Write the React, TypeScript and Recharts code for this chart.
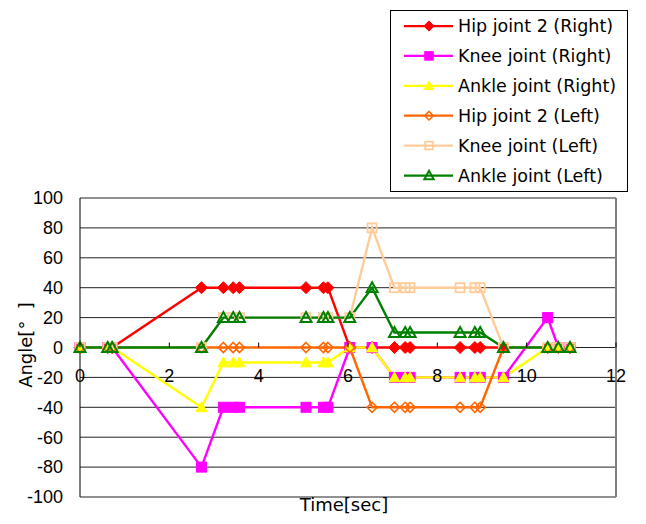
import React from 'react';
import { LineChart, Line, XAxis, YAxis, CartesianGrid, ReferenceLine, Legend } from 'recharts';

// Time [sec]
const times = [0, 0.62, 0.72, 2.72, 3.21, 3.43, 3.57, 5.06, 5.45, 5.55, 6.04, 6.54, 7.04, 7.28, 7.39, 8.51, 8.84, 8.96, 9.48, 10.47, 10.71, 10.97];
// Angles [deg]
const hipRight = [0, 0, 0, 40, 40, 40, 40, 40, 40, 40, 0, 0, 0, 0, 0, 0, 0, 0, 0, 0, 0, 0];
const kneeRight = [0, 0, 0, -80, -40, -40, -40, -40, -40, -40, 0, 0, -20, -20, -20, -20, -20, -20, -20, 20, 0, 0];
const ankleRight = [0, 0, 0, -40, -10, -10, -10, -10, -10, -10, 0, 0, -20, -20, -20, -20, -20, -20, -20, 0, 0, 0];
const hipLeft = [0, 0, 0, 0, 0, 0, 0, 0, 0, 0, 0, -40, -40, -40, -40, -40, -40, -40, 0, 0, 0, 0];
const kneeLeft = [0, 0, 0, 0, 20, 20, 20, 20, 20, 20, 20, 80, 40, 40, 40, 40, 40, 40, 0, 0, 0, 0];
const ankleLeft = [0, 0, 0, 0, 20, 20, 20, 20, 20, 20, 20, 40, 10, 10, 10, 10, 10, 10, 0, 0, 0, 0];

const xTicks = [0, 2, 4, 6, 8, 10, 12];
const yTicks = [-100, -80, -60, -40, -20, 0, 20, 40, 60, 80, 100];

const seriesNames = [
  'Hip joint 2 (Right)',
  'Knee joint (Right)',
  'Ankle joint (Right)',
  'Hip joint 2 (Left)',
  'Knee joint (Left)',
  'Ankle joint (Left)',
];
const seriesValues = [hipRight, kneeRight, ankleRight, hipLeft, kneeLeft, ankleLeft];

type Shape = 'diamond' | 'square' | 'triangle';
const styles: { color: string; shape: Shape; filled: boolean; size: number; sw: number }[] = [
  { color: '#FF0000', shape: 'diamond', filled: true, size: 6, sw: 1 },
  { color: '#FF00FF', shape: 'square', filled: true, size: 5, sw: 1 },
  { color: '#FFFF00', shape: 'triangle', filled: true, size: 5.5, sw: 1 },
  { color: '#FF6600', shape: 'diamond', filled: false, size: 5, sw: 1.6 },
  { color: '#FFCC99', shape: 'square', filled: false, size: 4.5, sw: 1.8 },
  { color: '#008000', shape: 'triangle', filled: false, size: 5.5, sw: 2 },
];

const data = times.map((t, i) => {
  const row: Record<string, number> = { t };
  seriesValues.forEach((arr, k) => {
    row['s' + k] = arr[i];
  });
  return row;
});

const FONT = '"Liberation Sans", Arial, sans-serif';
const TEXT_FONT = '"DejaVu Sans", sans-serif';
const W = 646;
const H = 524;
const X_AXIS_H = 27;
const M = { top: 198, right: 30, bottom: 0, left: 0 };
const Y_AXIS_W = 80;
const PLOT_H = H - M.top - M.bottom - X_AXIS_H;
const ZERO_Y = M.top + PLOT_H / 2;

function marker(shape: Shape, cx: number, cy: number, s: number, color: string, filled: boolean, sw: number, key?: any) {
  const fill = filled ? color : 'none';
  if (shape === 'diamond') {
    return (
      <polygon key={key} points={`${cx},${cy - s} ${cx + s},${cy} ${cx},${cy + s} ${cx - s},${cy}`} fill={fill} stroke={color} strokeWidth={sw} />
    );
  }
  if (shape === 'square') {
    return <rect key={key} x={cx - s} y={cy - s} width={2 * s} height={2 * s} fill={fill} stroke={color} strokeWidth={sw} />;
  }
  return (
    <polygon key={key} points={`${cx},${cy - s} ${cx + s},${cy + s * 0.8} ${cx - s},${cy + s * 0.8}`} fill={fill} stroke={color} strokeWidth={sw} strokeLinejoin="miter" />
  );
}

const makeDot = (k: number) => (props: any) => {
  const st = styles[k];
  if (props.cx == null || props.cy == null) return <g key={props.index} />;
  return marker(st.shape, props.cx, props.cy, st.size, st.color, st.filled, st.sw, props.index);
};

const XTick = (props: any) => {
  const { x, payload } = props;
  return (
    <g>
      <line x1={x} x2={x} y1={ZERO_Y - 5} y2={ZERO_Y} stroke="#000" strokeWidth={1} />
      <text x={x} y={ZERO_Y + 34} textAnchor="middle" fontSize={18} fontFamily={FONT} fill="#000">
        {payload.value}
      </text>
    </g>
  );
};

const LegendBox = () => (
  <div style={{ width: 236, height: 180, border: '1px solid #000', background: '#fff' }}>
    <svg width={236} height={180}>
      {seriesNames.map((name, k) => {
        const st = styles[k];
        const y = 15 + k * 29.9;
        return (
          <g key={name}>
            <line x1={13} x2={62} y1={y} y2={y} stroke={st.color} strokeWidth={2.25} />
            {marker(st.shape, 38, y, st.size * 0.85, st.color, st.filled, st.sw)}
            <text x={67} y={y} dominantBaseline="central" fontSize={17.5} fontFamily={TEXT_FONT} fill="#000">
              {name}
            </text>
          </g>
        );
      })}
    </svg>
  </div>
);

export default function App() {
  return (
    <div style={{ width: W, height: H, position: 'relative', background: '#fff' }}>
      <style>{'body{margin:0;}'}</style>
      <LineChart width={W} height={H} data={data} margin={M}>
        <CartesianGrid vertical={false} stroke="#222" strokeWidth={1} />
        <XAxis
          dataKey="t"
          type="number"
          domain={[0, 12]}
          ticks={xTicks}
          axisLine={false}
          tickLine={false}
          height={X_AXIS_H}
          tick={XTick}
          interval={0}
          label={{
            content: () => (
              <text x={344} y={511} textAnchor="middle" fontSize={18} fontFamily={TEXT_FONT} fill="#000">
                Time[sec]
              </text>
            ),
          }}
        />
        <YAxis
          type="number"
          domain={[-100, 100]}
          ticks={yTicks}
          width={Y_AXIS_W}
          axisLine={{ stroke: '#000', strokeWidth: 1 }}
          tickLine={false}
          tickSize={0}
          tickMargin={17}
          interval={0}
          tick={{ fontSize: 18, fontFamily: FONT, fill: '#000' }}
          label={{
            content: () => (
              <text
                x={25}
                y={345}
                transform="rotate(-90 25 345)"
                textAnchor="middle"
                dominantBaseline="central"
                fontSize={18}
                fontFamily={TEXT_FONT}
                fill="#000"
                style={{ whiteSpace: 'pre' }}
              >
                {'Angle[°\u00A0\u00A0]'}
              </text>
            ),
          }}
        />
        <ReferenceLine x={12} stroke="#808080" strokeWidth={2} />
        {seriesNames.map((name, k) => (
          <Line
            key={name}
            type="linear"
            dataKey={'s' + k}
            name={name}
            stroke={styles[k].color}
            strokeWidth={2.4}
            dot={makeDot(k)}
            activeDot={false}
            isAnimationActive={false}
          />
        ))}
        <Legend
          layout="horizontal"
          verticalAlign="middle"
          align="center"
          content={<LegendBox />}
          wrapperStyle={{ position: 'absolute', left: 390, top: 10, width: 238, height: 182 }}
        />
      </LineChart>
    </div>
  );
}
